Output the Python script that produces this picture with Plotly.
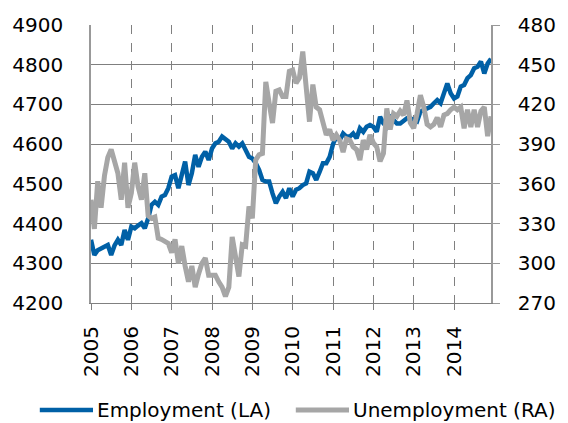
import plotly.graph_objects as go

years = ["2005", "2006", "2007", "2008", "2009", "2010", "2011", "2012", "2013", "2014"]

employment = [
    4359, 4321, 4333, 4338, 4342, 4346, 4321, 4345, 4359, 4346, 4384, 4359,
    4392, 4388, 4395, 4401, 4388, 4413, 4447, 4455, 4447, 4468, 4472, 4489,
    4518, 4522, 4489, 4522, 4556, 4497, 4527, 4573, 4543, 4568, 4581, 4560,
    4589, 4602, 4606, 4619, 4612, 4606, 4589, 4602, 4594, 4602, 4585, 4568,
    4564, 4552, 4535, 4510, 4506, 4506, 4476, 4451, 4468, 4480, 4464, 4489,
    4468, 4485, 4489, 4497, 4501, 4531, 4527, 4510, 4530, 4552, 4552, 4568,
    4600, 4619, 4610, 4627, 4619, 4619, 4627, 4615, 4640, 4631, 4644, 4648,
    4644, 4631, 4669, 4652, 4644, 4673, 4661, 4652, 4652, 4657, 4665, 4665,
    4660, 4657, 4682, 4686, 4690, 4694, 4703, 4711, 4703, 4732, 4753, 4728,
    4715, 4720, 4745, 4749, 4766, 4774, 4791, 4795, 4808, 4778, 4803, 4815,
]

unemployment = [
    348, 326, 362, 342, 366, 380, 386, 375, 368, 348, 376, 342,
    353, 376, 358, 348, 368, 336, 334, 335, 319, 318, 316, 315,
    308, 318, 300, 313, 298, 286, 298, 282, 292, 300, 304, 291,
    291, 291, 286, 282, 275, 282, 320, 305, 290, 314, 313, 343,
    334, 378, 382, 383, 437, 421, 406, 430, 431, 426, 426, 445,
    446, 436, 440, 460, 433, 407, 435, 418, 416, 406, 397, 401,
    393, 397, 393, 384, 394, 393, 388, 386, 378, 393, 386, 397,
    391, 388, 377, 383, 417, 401, 413, 411, 415, 412, 423, 406,
    402, 413, 427, 418, 405, 403, 405, 410, 403, 412, 413, 416,
    418, 416, 418, 402, 416, 403, 416, 403, 415, 418, 396, 411,
]

months = list(range(len(employment)))
year_ticks = [12 * k for k in range(len(years))]

blue = "#0060A6"
gray = "#A6A6A6"
font = "DejaVu Sans"

fig = go.Figure()
fig.add_trace(go.Scatter(x=months, y=employment, mode="lines", name="Employment (LA)",
                         line=dict(color=blue, width=4.5), showlegend=False))
fig.add_trace(go.Scatter(x=months, y=unemployment, mode="lines", name="Unemployment (RA)",
                         line=dict(color=gray, width=5), yaxis="y2", showlegend=False))

fig.update_layout(
    width=568, height=423,
    margin=dict(l=88, r=66, t=25, b=120),
    paper_bgcolor="white", plot_bgcolor="white",
    font=dict(family=font, size=20, color="black"),
    xaxis=dict(
        range=[0, 119], tickmode="array", tickvals=year_ticks, ticktext=years,
        tickangle=-90, ticks="outside", ticklen=6, tickcolor="#808080",
        showline=True, linecolor="#808080", linewidth=1,
        showgrid=True, gridcolor="#808080", gridwidth=1.3, griddash="dash",
        zeroline=False, ticklabelstandoff=8,
    ),
    yaxis=dict(
        range=[4200, 4900], dtick=100, tick0=4200,
        showline=True, linecolor="#999999", linewidth=1.5,
        showgrid=True, gridcolor="#7F7F7F", gridwidth=1,
        zeroline=False, ticks="", ticklabelstandoff=22,
    ),
    yaxis2=dict(
        range=[270, 480], dtick=30, tick0=270, overlaying="y", side="right",
        showline=True, linecolor="#999999", linewidth=1.5,
        ticks="outside", ticklen=7, tickcolor="#999999",
        showgrid=False, zeroline=False, ticklabelstandoff=14,
    ),
)

# custom legend (long line samples as in the reference)
leg_y = -0.385
fig.add_shape(type="line", xref="paper", yref="paper", x0=-0.128, x1=0.005, y0=leg_y, y1=leg_y,
              line=dict(color=blue, width=4.5))
fig.add_shape(type="line", xref="paper", yref="paper", x0=0.512, x1=0.645, y0=leg_y, y1=leg_y,
              line=dict(color=gray, width=5))
fig.add_annotation(xref="paper", yref="paper", x=0.010, y=leg_y, text="Employment (LA)",
                   showarrow=False, xanchor="left", yanchor="middle", font=dict(size=20))
fig.add_annotation(xref="paper", yref="paper", x=0.650, y=leg_y, text="Unemployment (RA)",
                   showarrow=False, xanchor="left", yanchor="middle", font=dict(size=20))

fig.write_html("out.html", config={"displayModeBar": False},
               post_script="document.body.style.margin='0';")
